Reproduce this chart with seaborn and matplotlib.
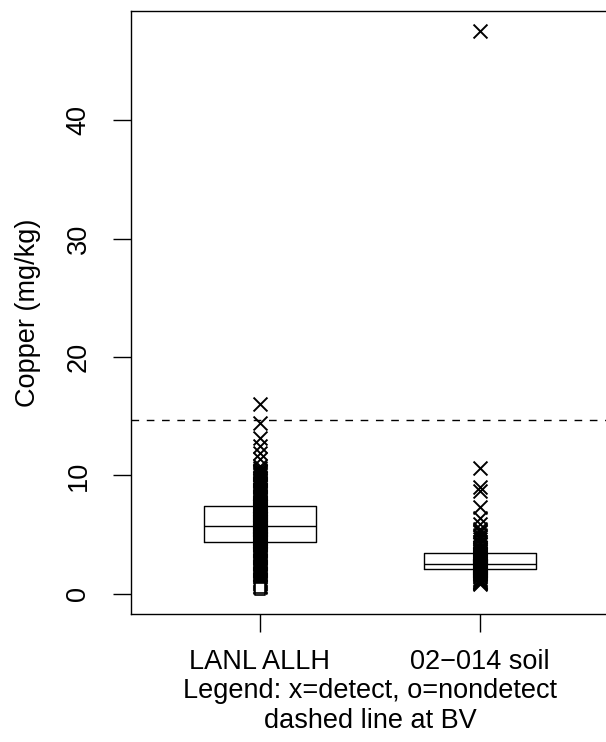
import matplotlib
matplotlib.use("Agg")
import matplotlib.pyplot as plt
import seaborn as sns
import pandas as pd

# ---- data ----
groups = ["LANL ALLH", "02\u2212014 soil"]

lanl_values = [0.3, 0.5, 0.6, 0.7, 0.8, 0.9, 1.0, 1.1, 1.2, 1.3, 1.4, 1.5, 1.6,
               1.7, 1.8, 1.9, 2.0, 2.1, 2.2, 2.3, 2.4, 2.5, 2.6, 2.7, 2.8, 2.9,
               3.0, 3.1, 3.2, 3.3, 3.4, 3.5, 3.6, 3.7, 3.8, 3.9, 4.0, 4.1, 4.2, 4.3,
               4.4,
               4.42, 4.45, 4.48, 4.5, 4.53, 4.56, 4.6, 4.63, 4.66, 4.7, 4.73, 4.76,
               4.8, 4.83, 4.86, 4.9, 4.93, 4.96, 5.0, 5.04, 5.08, 5.12, 5.16, 5.2,
               5.24, 5.28, 5.32, 5.36, 5.4, 5.44, 5.48, 5.52, 5.56, 5.6, 5.63, 5.66,
               5.69, 5.72, 5.74,
               5.76,
               5.8, 5.84, 5.88, 5.92, 5.96, 6.0, 6.04, 6.08, 6.12, 6.16, 6.2, 6.25,
               6.3, 6.35, 6.4, 6.45, 6.5, 6.55, 6.6, 6.65, 6.7, 6.75, 6.8, 6.85,
               6.9, 6.95, 7.0, 7.04, 7.08, 7.12, 7.16, 7.2, 7.24, 7.28, 7.32, 7.36,
               7.4, 7.42, 7.44,
               7.46,
               7.5, 7.55, 7.6, 7.7, 7.8, 7.9, 8.0, 8.1, 8.2, 8.3, 8.4, 8.5, 8.6,
               8.7, 8.8, 8.9, 9.0, 9.1, 9.2, 9.3, 9.4, 9.5, 9.6, 9.7, 9.8, 9.9,
               10.0, 10.1, 10.2, 10.3, 10.4, 10.5, 10.6, 10.8, 11.4, 11.9, 12.5,
               13.2, 14.4, 16.0]
lanl_detect = [0, 0] + [1] * (len(lanl_values) - 2)

soil_values = [0.85, 0.9, 0.95, 1.0, 1.05, 1.1, 1.2, 1.3, 1.4, 1.5, 1.6, 1.65,
               1.7, 1.75, 1.8, 1.85, 1.9, 1.95, 2.0, 2.05,
               2.1,
               2.12, 2.14, 2.16, 2.18, 2.2, 2.22, 2.24, 2.26, 2.28, 2.3, 2.32,
               2.34, 2.36, 2.38, 2.4, 2.42, 2.44, 2.46, 2.48,
               2.5,
               2.55, 2.6, 2.65, 2.7, 2.75, 2.8, 2.85, 2.9, 2.95, 3.0, 3.05, 3.1,
               3.15, 3.2, 3.25, 3.3, 3.35, 3.4, 3.45,
               3.5,
               3.6, 3.7, 3.8, 3.9, 4.0, 4.2, 4.4, 4.6, 4.8, 5.0, 5.2, 5.35, 5.5,
               5.9, 6.4, 7.3, 8.7, 9.0, 10.6, 47.5]
soil_detect = [1] * len(soil_values)

bv = 14.7
yticks = [0, 10, 20, 30, 40]
ylabel = "Copper (mg/kg)"
xlabel = "Legend: x=detect, o=nondetect\ndashed line at BV"

df = pd.DataFrame({
    "group": [groups[0]] * len(lanl_values) + [groups[1]] * len(soil_values),
    "value": lanl_values + soil_values,
    "detect": lanl_detect + soil_detect,
})

# ---- style ----
sns.set_style("ticks")
plt.rcParams["font.family"] = ["Liberation Sans", "DejaVu Sans"]
plt.rcParams["text.color"] = "black"
plt.rcParams["axes.labelcolor"] = "black"
plt.rcParams["xtick.color"] = "black"
plt.rcParams["ytick.color"] = "black"
FS = 19.5

fig = plt.figure(figsize=(6.06, 7.42), dpi=100)
ax = fig.add_axes([131 / 606, 128 / 742, 478 / 606, 603 / 742])

sns.boxplot(data=df, x="group", y="value", order=groups, whis=0,
            showfliers=False, showcaps=False, width=0.51, fill=False,
            color="black", linewidth=1.0, ax=ax)

sns.stripplot(data=df[df["detect"] == 1], x="group", y="value", order=groups,
              jitter=False, marker="x", size=10, color="black", linewidth=1.4,
              ax=ax, zorder=5)
sns.stripplot(data=df[df["detect"] == 0], x="group", y="value", order=groups,
              jitter=False, marker="s", size=7, color="white", edgecolor="black",
              linewidth=1.2, ax=ax, zorder=6)

ax.axhline(bv, color="black", lw=1.0, ls=(0, (5.5, 5.5)), zorder=4)

ax.set_xlim(-0.586, 1.586)
ax.set_ylim(-1.69, 49.2)
ax.set_yticks(yticks)
ax.set_yticklabels([str(t) for t in yticks], rotation=90, va="center",
                   fontsize=FS, color="black")
ax.set_xticks([0, 1])
ax.set_xticklabels(groups, fontsize=FS, color="black")
ax.tick_params(axis="both", direction="out", length=13, width=1.0,
               color="black")
ax.tick_params(axis="y", pad=15.5)
ax.tick_params(axis="x", pad=12)

ax.set_ylabel(ylabel, fontsize=FS, labelpad=17.5, color="black")
ax.set_xlabel(xlabel, fontsize=FS, linespacing=1.25, labelpad=2,
              color="black")

for s in ax.spines.values():
    s.set_visible(True)
    s.set_color("black")
    s.set_linewidth(1.0)

fig.savefig("out.png", dpi=100, facecolor="white")
